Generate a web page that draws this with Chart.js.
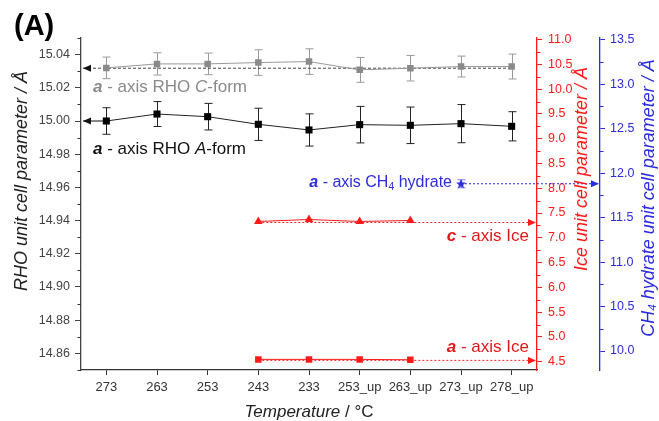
<!DOCTYPE html>
<html><head><meta charset="utf-8">
<script src="https://cdn.jsdelivr.net/npm/chart.js@4.4.0/dist/chart.umd.min.js"></script>
<style>html,body{margin:0;padding:0;background:#fff}canvas{display:block}</style>
</head><body>
<canvas id="c" width="659" height="421"></canvas>
<script>
// ---------- data ----------
const categories = ['273','263','253','243','233','253_up','263_up','273_up','278_up'];
const rhoC    = [15.0320,15.0344,15.0344,15.0352,15.0358,15.0308,15.0318,15.0328,15.0328];
const rhoCErr = [0.0065,0.0067,0.0065,0.0077,0.0077,0.0075,0.0077,0.0063,0.0075];
const rhoA    = [15.0000,15.0042,15.0026,14.9980,14.9946,14.9978,14.9974,14.9984,14.9968];
const rhoAErr = [0.0080,0.0075,0.0080,0.0097,0.0097,0.0110,0.0110,0.0115,0.0088];
const iceC    = [null,null,null,7.33,7.37,7.33,7.35,null,null];
const iceA    = [null,null,null,4.547,4.547,4.547,4.540,null,null];
const ch4     = [null,null,null,null,null,null,null,11.88,null];
const ch4Err  = [null,null,null,null,null,null,null,0.045,null];
const rhoCRef = 15.0318, rhoARef = 15.0000, iceCRef = 7.31, iceARef = 4.527, ch4Ref = 11.88;
const rhoTicks = [14.86,14.88,14.90,14.92,14.94,14.96,14.98,15.00,15.02,15.04];
const iceTicks = [4.5,5.0,5.5,6.0,6.5,7.0,7.5,8.0,8.5,9.0,9.5,10.0,10.5,11.0];
const ch4Ticks = [10.0,10.5,11.0,11.5,12.0,12.5,13.0,13.5];
const rhoRange = [14.85,15.05], iceRange = [4.333,11.032], ch4Range = [9.787,13.518];

// ---------- styles ----------
const FF = "'Liberation Sans', Arial, sans-serif";
const GRAY = '#8a8a8a', BLACK = '#000', RED = '#ff1a1a', BLUE = '#2b2be0', AXC = '#333';

function starCanvas(color){
  const c = document.createElement('canvas'); c.width = 12; c.height = 12;
  const g = c.getContext('2d'); g.fillStyle = color; g.beginPath();
  for (let i=0;i<10;i++){ const r = i%2?2.2:5.2; const a = -Math.PI/2 + i*Math.PI/5;
    g.lineTo(6+r*Math.cos(a), 6.3+r*Math.sin(a)); }
  g.closePath(); g.fill(); return c;
}

function font(style, size){ return style + ' ' + size + 'px ' + FF; }
function drawSegs(ctx, segs, x, y, align, size, color){
  let w = 0;
  segs.forEach(s => { ctx.font = font(s.f||'', size*(s.k||1)); s.w = ctx.measureText(s.t).width; w += s.w; });
  let cx = align==='right' ? x - w : align==='center' ? x - w/2 : x;
  ctx.fillStyle = color; ctx.textBaseline = 'middle'; ctx.textAlign = 'left';
  segs.forEach(s => { ctx.font = font(s.f||'', size*(s.k||1)); ctx.fillText(s.t, cx, y + (s.dy||0)); cx += s.w; });
}
function arrow(ctx, x, y, dir, color){
  ctx.save(); ctx.setLineDash([]); ctx.fillStyle = color; ctx.beginPath();
  ctx.moveTo(x, y); ctx.lineTo(x - dir*8, y - 3.5); ctx.lineTo(x - dir*8, y + 3.5); ctx.closePath(); ctx.fill(); ctx.restore();
}

const errorBars = {
  id: 'errorBars',
  beforeDatasetsDraw(chart){
    const ctx = chart.ctx;
    chart.data.datasets.forEach((ds, di) => {
      if (!ds.errors) return;
      const meta = chart.getDatasetMeta(di); const sc = chart.scales[ds.yAxisID];
      ctx.save(); ctx.strokeStyle = ds.errorColor; ctx.lineWidth = 1;
      ds.data.forEach((v, i) => {
        const e = ds.errors[i]; if (v == null || e == null) return;
        const x = Math.round(meta.data[i].x) + 0.5;
        const y1 = sc.getPixelForValue(v + e), y2 = sc.getPixelForValue(v - e);
        ctx.beginPath(); ctx.moveTo(x, y1); ctx.lineTo(x, y2);
        ctx.moveTo(x-4, y1); ctx.lineTo(x+4, y1); ctx.moveTo(x-4, y2); ctx.lineTo(x+4, y2); ctx.stroke();
      });
      ctx.restore();
    });
  }
};

const refLines = {
  id: 'refLines',
  beforeDatasetsDraw(chart){
    const {ctx, chartArea: ca, scales: s} = chart;
    const xs = s.x;
    const line = (x1, x2, y, color, dash, w) => { ctx.save(); ctx.strokeStyle = color; ctx.lineWidth = w||1; ctx.setLineDash(dash);
      ctx.beginPath(); ctx.moveTo(x1, y); ctx.lineTo(x2, y); ctx.stroke(); ctx.restore(); };
    let y = s.y.getPixelForValue(rhoCRef);
    line(ca.left + 2, xs.getPixelForValue(8), y, '#444', [3,2]);
    arrow(ctx, ca.left + 2, y, -1, '#111');
    y = s.y.getPixelForValue(rhoARef);
    line(ca.left + 2, xs.getPixelForValue(0), y, '#111', []);
    arrow(ctx, ca.left + 2, y, -1, '#111');
    y = s.yIce.getPixelForValue(iceCRef);
    line(xs.getPixelForValue(3), ca.right - 2, y, RED, [2,2]);
    arrow(ctx, ca.right - 1, y, 1, RED);
    y = s.yIce.getPixelForValue(iceARef);
    line(xs.getPixelForValue(3), ca.right - 2, y, RED, [2,2]);
    arrow(ctx, ca.right - 1, y, 1, RED);
    y = s.yHyd.getPixelForValue(ch4Ref);
    line(xs.getPixelForValue(7), s.yHyd.left - 2, y, BLUE, [2,2]);
    arrow(ctx, s.yHyd.left - 1, y, 1, BLUE);
  }
};

const minorTicks = {
  id: 'minorTicks',
  afterDraw(chart){
    const ctx = chart.ctx;
    [['y', rhoTicks, 0.01, -1, AXC], ['yIce', iceTicks, 0.25, 1, RED], ['yHyd', ch4Ticks, 0.25, 1, BLUE]].forEach(([id, ticks, h, dir, col]) => {
      const sc = chart.scales[id]; const x0 = dir < 0 ? sc.right : sc.left;
      const vals = ticks.map(t => t + h).concat([ticks[0] - h]);
      ctx.save(); ctx.strokeStyle = col; ctx.lineWidth = 1;
      vals.forEach(v => { if (v < sc.min - 1e-9 || v > sc.max + 1e-9) return;
        const y = Math.round(sc.getPixelForValue(v)) + 0.5;
        ctx.beginPath(); ctx.moveTo(x0, y); ctx.lineTo(x0 + dir*3.5, y); ctx.stroke(); });
      ctx.restore();
    });
  }
};

const texts = {
  id: 'texts',
  afterDraw(chart){
    const {ctx, chartArea: ca, scales: s} = chart;
    ctx.save();
    drawSegs(ctx, [{t:'(A)', f:'bold'}], 14, 27, 'left', 29, '#000');
    drawSegs(ctx, [{t:'a', f:'italic bold'},{t:' - axis RHO '},{t:'C', f:'italic'},{t:'-form'}], ca.left + 12, s.y.getPixelForValue(15.0202), 'left', 17, GRAY);
    drawSegs(ctx, [{t:'a', f:'italic bold'},{t:' - axis RHO '},{t:'A', f:'italic'},{t:'-form'}], ca.left + 12, s.y.getPixelForValue(14.983), 'left', 17, '#111');
    drawSegs(ctx, [{t:'a', f:'italic bold'},{t:' - axis CH'},{t:'4', k:0.65, dy:4},{t:' hydrate'}], s.x.getPixelForValue(7) - 9, s.yHyd.getPixelForValue(ch4Ref) - 1, 'right', 16, BLUE);
    drawSegs(ctx, [{t:'c', f:'italic bold'},{t:' - axis Ice'}], ca.right - 8, s.yIce.getPixelForValue(7.03), 'right', 17, '#e01818');
    drawSegs(ctx, [{t:'a', f:'italic bold'},{t:' - axis Ice'}], ca.right - 8, s.yIce.getPixelForValue(4.79), 'right', 17, '#e01818');
    drawSegs(ctx, [{t:'Temperature', f:'italic'},{t:' / \u00B0C'}], (ca.left + ca.right)/2, 412, 'center', 17, '#222');
    const rot = (x, y, segs, color, size) => { ctx.save(); ctx.translate(x, y); ctx.rotate(-Math.PI/2); drawSegs(ctx, segs, 0, 0, 'center', size, color); ctx.restore(); };
    rot(22, 181, [{t:'RHO unit cell parameter / \u00C5', f:'italic'}], '#222', 18);
    rot(582, 169, [{t:'Ice unit cell parameter / \u00C5', f:'italic'}], RED, 18);
    rot(649, 198, [{t:'CH', f:'italic'},{t:'4', f:'italic', k:0.65, dy:4},{t:' hydrate unit cell parameter / \u00C5', f:'italic'}], BLUE, 18);
    ctx.restore();
  }
};

const setTicks = arr => (sc => { sc.ticks = arr.map(v => ({value: v})); });
const vAxis = (pos, range, ticks, dec, color, width, tickLen, pad, size) => ({
  type: 'linear', position: pos, min: range[0], max: range[1],
  afterBuildTicks: setTicks(ticks),
  afterFit: sc => { sc.width = width; },
  ticks: { callback: v => Number(v).toFixed(dec), color: color, font: {family: FF, size: size}, padding: pad, autoSkip: false },
  grid: { drawOnChartArea: false, drawTicks: true, tickLength: tickLen, tickColor: color, color: color, tickWidth: 1 },
  border: { display: true, color: color, width: 1.3 },
  title: { display: false }
});

new Chart(document.getElementById('c'), {
  type: 'line',
  data: {
    labels: categories,
    datasets: [
      { label: 'a - axis RHO C-form', data: rhoC, errors: rhoCErr, errorColor: '#9a9a9a', yAxisID: 'y',
        borderColor: '#999', backgroundColor: GRAY, borderWidth: 1, pointStyle: 'rect', pointRadius: 4.6, pointBorderWidth: 0 },
      { label: 'a - axis RHO A-form', data: rhoA, errors: rhoAErr, errorColor: '#222', yAxisID: 'y',
        borderColor: '#222', backgroundColor: BLACK, borderWidth: 1, pointStyle: 'rect', pointRadius: 5, pointBorderWidth: 0 },
      { label: 'c - axis Ice', data: iceC, yAxisID: 'yIce',
        borderColor: RED, backgroundColor: RED, borderWidth: 1, pointStyle: 'triangle', pointRadius: 5, pointBorderWidth: 0 },
      { label: 'a - axis Ice', data: iceA, yAxisID: 'yIce',
        borderColor: RED, backgroundColor: RED, borderWidth: 1, pointStyle: 'rect', pointRadius: 4.6, pointBorderWidth: 0 },
      { label: 'a - axis CH4 hydrate', data: ch4, errors: ch4Err, errorColor: '#8080ee', yAxisID: 'yHyd',
        borderColor: BLUE, backgroundColor: BLUE, borderWidth: 1, pointStyle: starCanvas(BLUE), pointRadius: 5 }
    ]
  },
  options: {
    responsive: false, animation: false, devicePixelRatio: 1,
    layout: { padding: { top: 38, left: 0, right: 0, bottom: 0 } },
    plugins: { legend: { display: false }, tooltip: { enabled: false }, title: { display: false } },
    elements: { line: { tension: 0 } },
    scales: {
      x: { type: 'category', offset: true,
        afterFit: sc => { sc.height = 51; },
        ticks: { color: '#333', font: {family: FF, size: 13}, padding: 5, maxRotation: 0, autoSkip: false },
        grid: { drawOnChartArea: false, offset: false, tickLength: 5, tickColor: AXC, color: AXC },
        border: { display: true, color: AXC, width: 1.3 } },
      y: vAxis('left', rhoRange, rhoTicks, 2, '#444', 81, 6, 5, 12.5),
      yIce: vAxis('right', iceRange, iceTicks, 1, RED, 63, 5, 6, 12.5),
      yHyd: vAxis('right', ch4Range, ch4Ticks, 1, BLUE, 59, 5, 5, 12.5)
    }
  },
  plugins: [errorBars, refLines, minorTicks, texts]
});
</script>
</body></html>
